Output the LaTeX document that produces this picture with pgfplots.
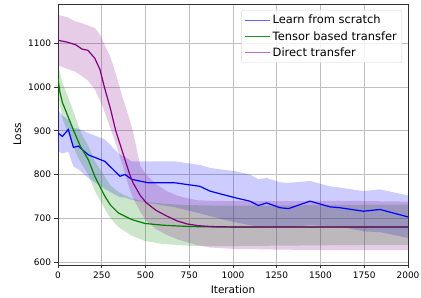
\documentclass[border=0pt]{standalone}
\usepackage{fontspec}
\setmainfont{DejaVu Sans}
\usepackage{pgfplots}
\usepackage{pgfplotstable}
\pgfplotsset{compat=1.18}
\usepgfplotslibrary{fillbetween}

\pgfplotstableread{
x m lo hi
0 895 853 948
25 887 848 935
59 903 852 925
88 862 818 906
116 865 812 905
173 845 792 895
268 830 767 880
354 796 748 845
383 800 747 840
421 789 742 830
516 781 735 830
668 781 725 830
811 773 711 822
869 762 705 815
943 754 697 811
1021 746 690 807
1097 739 684 800
1145 729 681 789
1192 735 682 792
1269 724 680 782
1317 722 680 781
1440 739 684 785
1554 726 682 773
1611 724 681 770
1745 716 670 762
1840 720 668 766
2000 703 655 752
}\blueT

\pgfplotstableread{
x m lo hi
0 1020 990 1048
10 990 960 1035
25 965 930 1010
50 940 900 985
88 902 862 945
126 866 830 900
173 834 800 865
211 795 762 830
268 750 721 795
300 730 700 775
345 712 680 760
421 697 660 745
497 688 648 738
600 684 641 733
750 681 637 730
900 680 636 729
1200 680 637 729
1500 680 638 730
1800 680 639 731
2000 680 639 731
}\greenT

\pgfplotstableread{
x m lo hi
0 1107 1050 1165
50 1103 1042 1160
100 1097 1035 1150
137 1087 1025 1146
171 1084 1015 1141
210 1066 995 1135
240 1040 970 1120
265 1000 945 1098
300 950 905 1068
330 900 870 1030
370 850 820 975
410 800 765 925
430 780 745 895
470 752 715 820
503 736 695 800
560 718 675 778
621 705 662 762
680 694 652 752
737 687 645 746
800 683 638 741
870 681 633 740
1000 680 630 739
1300 680 628 739
1600 680 627 740
2000 680 627 738
}\purpleT

\definecolor{mblue}{RGB}{0,0,255}
\definecolor{mgreen}{RGB}{0,128,0}
\definecolor{mpurple}{RGB}{128,0,128}
\definecolor{lgblue}{RGB}{100,100,255}
\definecolor{lggreen}{RGB}{30,145,30}
\definecolor{lgpurple}{RGB}{190,110,190}

\begin{document}
\begin{tikzpicture}
\begin{axis}[
  at={(0,0)}, anchor=south west,
  scale only axis, width=350bp, height=261bp,
  xmin=0, xmax=2000, ymin=593, ymax=1190,
  xtick={0,250,...,2000}, ytick={600,700,...,1100},
  /pgf/number format/assume math mode=true,
  /pgf/number format/set thousands separator={},
  tick label style={font=\fontsize{9}{10}\selectfont},
  label style={font=\fontsize{10.5}{12}\selectfont},
  xlabel={Iteration}, ylabel={Loss},
  tick align=outside, tick pos=left,
  major tick length=3.5bp,
  tick style={black!80, line width=0.8bp},
  axis line style={black!80, line width=0.8bp},
  grid=major,
  major grid style={color=black!25, line width=0.8bp},
  legend cell align=left,
  legend style={at={(0.983,0.977)}, anchor=north east,
    draw=black!15, rounded corners=2pt, fill=white, fill opacity=0.8, text opacity=1, draw opacity=1,
    font=\fontsize{11.5}{13}\selectfont, row sep=2pt, inner sep=3pt},
  legend image code/.code={\draw[#1, line width=1.4bp] (0bp,0bp) -- (25bp,0bp);},
]
\addplot[draw=none, name path=bhi, forget plot] table[x=x,y=hi]{\blueT};
\addplot[draw=none, name path=blo, forget plot] table[x=x,y=lo]{\blueT};
\addplot[fill=mblue, fill opacity=0.2, draw=none, forget plot] fill between[of=bhi and blo];

\addplot[draw=none, name path=ghi, forget plot] table[x=x,y=hi]{\greenT};
\addplot[draw=none, name path=glo, forget plot] table[x=x,y=lo]{\greenT};
\addplot[fill=mgreen, fill opacity=0.2, draw=none, forget plot] fill between[of=ghi and glo];

\addplot[draw=none, name path=phi, forget plot] table[x=x,y=hi]{\purpleT};
\addplot[draw=none, name path=plo, forget plot] table[x=x,y=lo]{\purpleT};
\addplot[fill=mpurple, fill opacity=0.2, draw=none, forget plot] fill between[of=phi and plo];

\addplot[mblue, line width=1.2bp, forget plot] table[x=x,y=m]{\blueT};
\addplot[mgreen, line width=1.2bp, forget plot] table[x=x,y=m]{\greenT};
\addplot[mpurple, line width=1.2bp, forget plot] table[x=x,y=m]{\purpleT};

\addlegendimage{lgblue, opacity=1}
\addlegendentry{Learn from scratch}
\addlegendimage{lggreen, opacity=1}
\addlegendentry{Tensor based transfer}
\addlegendimage{lgpurple, opacity=1}
\addlegendentry{Direct transfer}
\end{axis}
\pgfresetboundingbox
\path[use as bounding box] (-58bp,-33bp) rectangle (363bp,265bp);
\end{tikzpicture}
\end{document}
